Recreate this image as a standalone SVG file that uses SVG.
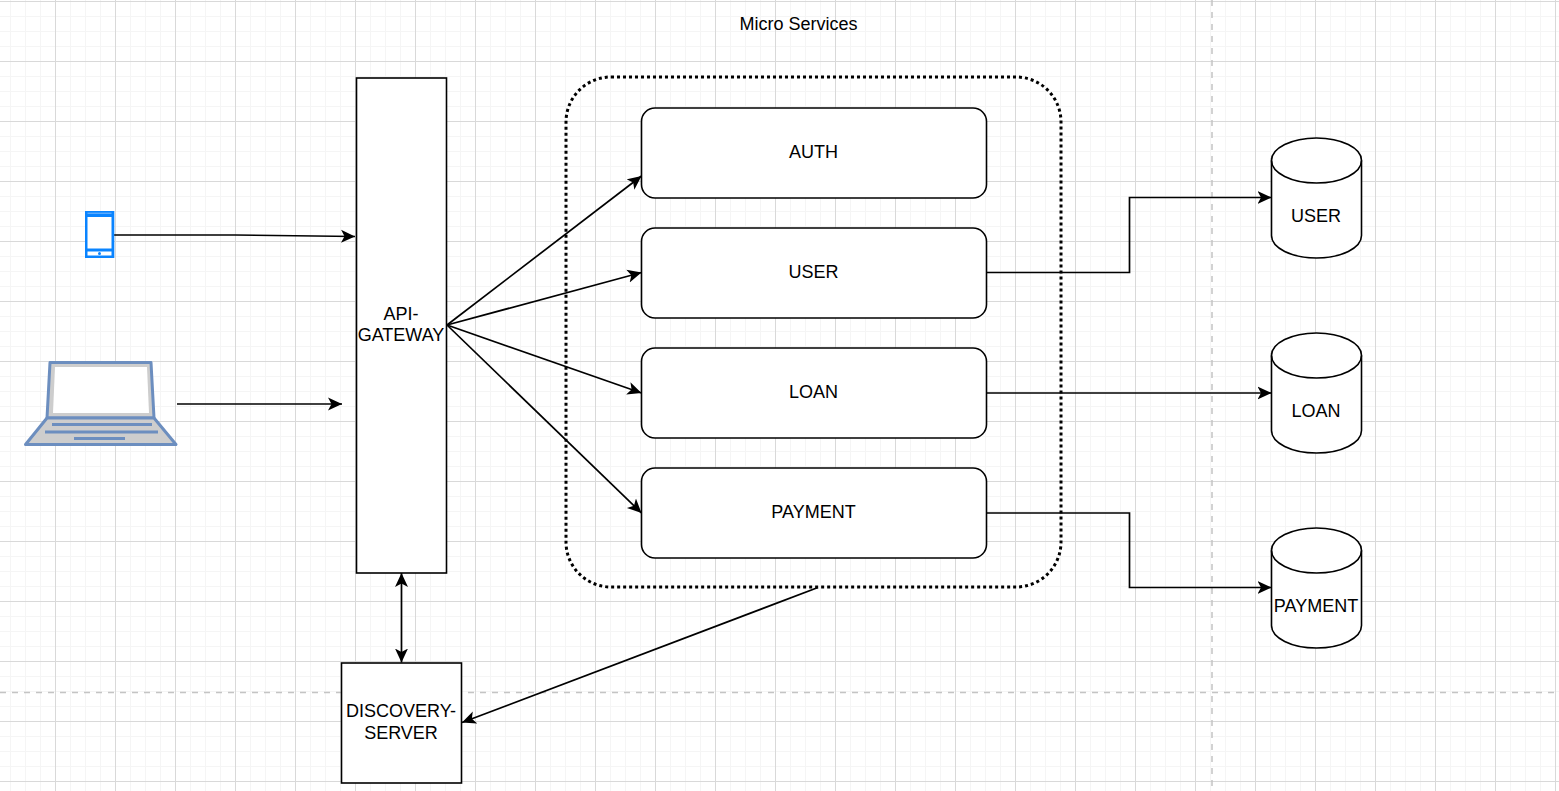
<svg xmlns="http://www.w3.org/2000/svg" width="1559" height="791" viewBox="0 0 1559 791">
<style>
.s{fill:#fff;stroke:#000;stroke-width:1.6}
.n{fill:none;stroke:#000;stroke-width:1.6}
.t{font-family:"Liberation Sans",Arial,sans-serif;font-size:18px;fill:#000;text-anchor:middle}
.c{fill:none;stroke:#000;stroke-width:1.7}
.ae{marker-end:url(#a)}
.as{marker-start:url(#b)}
.d{stroke:#c4c4c4;stroke-width:1.5;stroke-dasharray:6 6;fill:none}
.lg{fill:#cdcdcd;stroke:#6c8ebf;stroke-width:3;stroke-linejoin:round}
</style>
<defs>
<marker id="a" markerUnits="userSpaceOnUse" markerWidth="16" markerHeight="15" refX="14" refY="7" orient="auto"><path d="M0 0.500L14 7L0 13.500L3.500 7Z" fill="#000"/></marker>
<marker id="b" markerUnits="userSpaceOnUse" markerWidth="16" markerHeight="15" refX="1" refY="7" orient="auto"><path d="M15 0.500L1 7L15 13.500L11.500 7Z" fill="#000"/></marker>
<pattern id="g" width="60" height="60" patternUnits="userSpaceOnUse" x="-5" y="1">
<path d="M15.500 0V60M30.500 0V60M45.500 0V60M0 15.500H60M0 30.500H60M0 45.500H60" stroke="#f5f5f5" stroke-width="1" fill="none"/>
<path d="M0.500 0V60M0 0.500H60" stroke="#d9d9d9" stroke-width="1" fill="none"/>
</pattern>
</defs>
<rect width="1559" height="791" fill="#fff"/>
<rect width="1559" height="791" fill="url(#g)"/>
<path class="d" d="M1212 0V791M0 692.500H1559"/>
<g id="title"><text class="t" x="798.500" y="29.500">Micro Services</text></g>
<g id="group-micro-services"><rect x="566" y="77" width="495" height="510" rx="45" fill="none" stroke="#000" stroke-width="3" stroke-dasharray="3 3"/></g>
<g id="connectors">
<path class="c ae" d="M114 235H235L355 236.500"/>
<path class="c ae" d="M177 404H342"/>
<path class="c ae" d="M447 325L641.500 176"/>
<path class="c ae" d="M447 325L641.500 272.500"/>
<path class="c ae" d="M447 325L641.500 393"/>
<path class="c ae" d="M447 325L641.500 513"/>
<path class="c ae as" d="M401.500 573V662.500"/>
<path class="c ae" d="M818 587.500L462 722.500"/>
<path class="c ae" d="M987 272.500H1129.500V197.500H1271.500"/>
<path class="c ae" d="M987 393H1271.500"/>
<path class="c ae" d="M987 513H1129.500V587.500H1271.500"/>
</g>
<g id="phone">
<rect x="85" y="211" width="29.300" height="47" fill="#0a84ff"/>
<rect x="87.500" y="212.700" width="24" height="1" fill="#7dbcff"/>
<rect x="87.500" y="217" width="24" height="31.500" fill="#fff"/>
<rect x="87.500" y="251.500" width="24" height="4" fill="#fff"/>
<circle cx="99.500" cy="253.500" r="1.500" fill="#0a84ff"/>
</g>
<g id="laptop">
<path class="lg" d="M50 362.500H151L154 418H47Z"/>
<path d="M55 367H147L149 413H53Z" fill="#fff"/>
<path class="lg" d="M47 418H154L176 444.500H25.500Z"/>
<path d="M52 424.500H152M45 432H158M74 438.500H125" stroke="#6c8ebf" stroke-width="3" fill="none"/>
</g>
<g id="api-gateway"><rect class="s" x="356.500" y="78" width="90" height="495"/><text class="t" x="401" y="320">API-</text><text class="t" x="401" y="341">GATEWAY</text></g>
<g id="discovery-server"><rect class="s" x="341.500" y="663" width="120" height="120"/><text class="t" x="401" y="717">DISCOVERY-</text><text class="t" x="401" y="739">SERVER</text></g>
<g id="auth"><rect class="s" x="641.500" y="108" width="345" height="90" rx="13.500"/><text class="t" x="813.500" y="158">AUTH</text></g>
<g id="user"><rect class="s" x="641.500" y="228" width="345" height="90" rx="13.500"/><text class="t" x="813.500" y="278">USER</text></g>
<g id="loan"><rect class="s" x="641.500" y="348" width="345" height="90" rx="13.500"/><text class="t" x="813.500" y="398">LOAN</text></g>
<g id="payment"><rect class="s" x="641.500" y="468" width="345" height="90" rx="13.500"/><text class="t" x="813.500" y="518">PAYMENT</text></g>
<g id="db-user"><path class="s" d="M1271.500 160.500A45 22.500 0 0 1 1361.500 160.500V235.500A45 22.500 0 0 1 1271.500 235.500Z"/><path class="n" d="M1271.500 160.500A45 22.500 0 0 0 1361.500 160.500"/><text class="t" x="1316" y="222">USER</text></g>
<g id="db-loan"><path class="s" d="M1271.500 355.500A45 22.500 0 0 1 1361.500 355.500V430.500A45 22.500 0 0 1 1271.500 430.500Z"/><path class="n" d="M1271.500 355.500A45 22.500 0 0 0 1361.500 355.500"/><text class="t" x="1316" y="417">LOAN</text></g>
<g id="db-payment"><path class="s" d="M1271.500 550.500A45 22.500 0 0 1 1361.500 550.500V625.500A45 22.500 0 0 1 1271.500 625.500Z"/><path class="n" d="M1271.500 550.500A45 22.500 0 0 0 1361.500 550.500"/><text class="t" x="1316" y="612">PAYMENT</text></g>
</svg>
